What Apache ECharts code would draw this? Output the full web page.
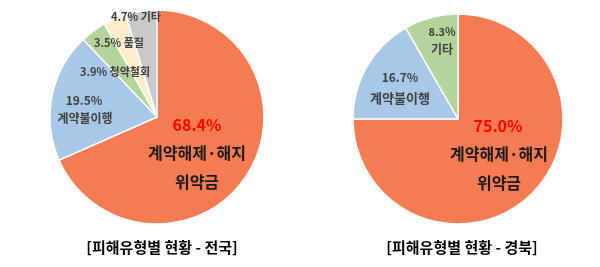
<!DOCTYPE html>
<html><head><meta charset="utf-8">
<script src="https://cdn.jsdelivr.net/npm/echarts@6/dist/echarts.min.js"></script>
<style>html,body{margin:0;padding:0;background:#fff}#c{width:600px;height:267px}</style>
</head><body><div id="c"></div>
<script>
// 전국
const nationCategories = ['계약해제·해지 위약금', '계약불이행', '청약철회', '품질', '기타'];
const nationValues = [68.4, 19.5, 3.9, 3.5, 4.7];
// 경북
const gbCategories = ['계약해제·해지 위약금', '계약불이행', '기타'];
const gbValues = [75.0, 16.7, 8.3];
const titles = ['[피해유형별 현황 - 전국]', '[피해유형별 현황 - 경북]'];

const colorsNation = ['#F47B52', '#A9C8E7', '#B4D49C', '#FDEDCB', '#C9C9C9'];
const colorsGb = ['#F47B52', '#A9C8E7', '#B4D49C'];
const FONT = '"Noto Sans CJK KR", "Noto Sans", sans-serif';

function pct(v){ return v.toFixed(1) + '%'; }

function mkData(cats, vals, cols){
  return vals.map((v,i)=>({name:cats[i], value:v, itemStyle:{color:cols[i]}}));
}

const chart = echarts.init(document.getElementById('c'), null, {renderer:'canvas'});

function txt(x, y, text, size, color){
  return {type:'text', x:x, y:y, z:100, zlevel:0,
    style:{text:text, font:'bold '+size+'px '+FONT, fill:color, align:'center', verticalAlign:'middle'}};
}
const dark = '#404040';
const graphics = [
  // 전국 labels
  txt(197, 125, pct(nationValues[0]), 16, '#FF0000'),
  txt(197, 153, '계약해제·해지', 16, '#1a1a1a'),
  txt(197, 182, '위약금', 16, '#1a1a1a'),
  txt(84, 100, pct(nationValues[1]), 12, dark),
  txt(85, 118, nationCategories[1], 12, dark),
  txt(115, 72, pct(nationValues[2]) + ' ' + nationCategories[2], 11, dark),
  txt(119, 43, pct(nationValues[3]) + ' ' + nationCategories[3], 11, dark),
  txt(136, 17, pct(nationValues[4]) + ' ' + nationCategories[4], 11, dark),
  // 경북 labels
  txt(498, 126, pct(gbValues[0]), 16, '#FF0000'),
  txt(499, 154, '계약해제·해지', 16, '#1a1a1a'),
  txt(499, 183, '위약금', 16, '#1a1a1a'),
  txt(400, 77, pct(gbValues[1]), 12, dark),
  txt(400, 98, gbCategories[1], 13, dark),
  txt(442, 32, pct(gbValues[2]), 11, dark),
  txt(442, 49, gbCategories[2], 12, dark),
  // titles
  txt(162, 247, titles[0], 15, '#000'),
  txt(462, 247, titles[1], 15, '#000')
];

chart.setOption({
  backgroundColor:'#fff',
  animation:false,
  series:[
    {type:'pie', center:[157,117], radius:107, startAngle:90, clockwise:true, z:1,
     label:{show:false}, labelLine:{show:false}, silent:true,
     itemStyle:{borderColor:'#fff', borderWidth:1.5},
     data:mkData(nationCategories, nationValues, colorsNation)},
    {type:'pie', center:[458,119], radius:105, startAngle:90, clockwise:true, z:1,
     label:{show:false}, labelLine:{show:false}, silent:true,
     itemStyle:{borderColor:'#fff', borderWidth:1.5},
     data:mkData(gbCategories, gbValues, colorsGb)}
  ],
  graphic:{elements:graphics}
});
</script></body></html>
